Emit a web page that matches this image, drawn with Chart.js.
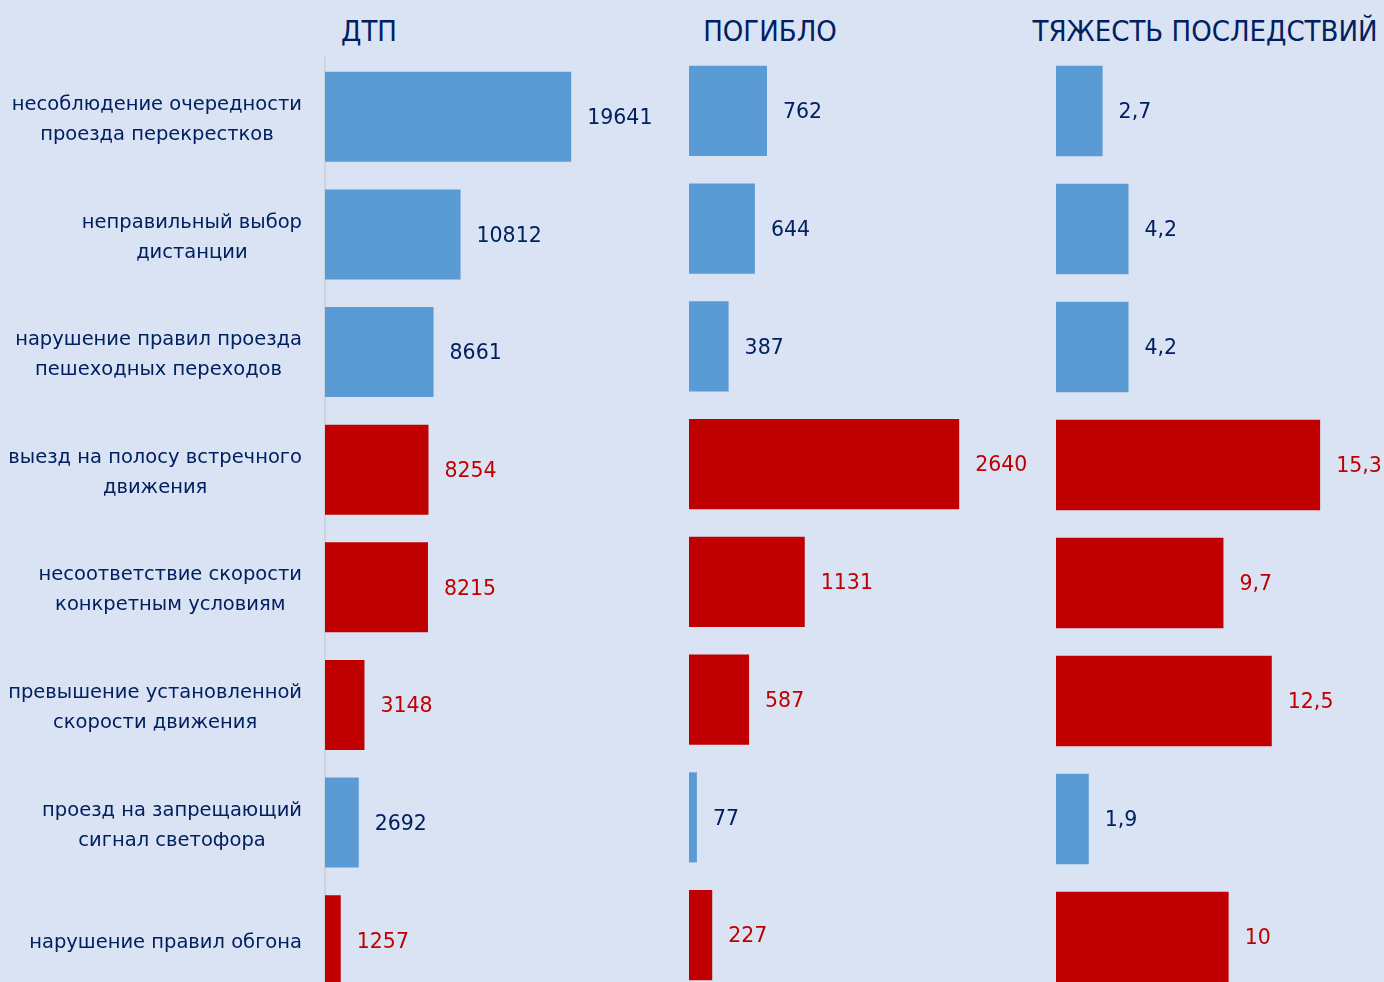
<!DOCTYPE html>
<html>
<head>
<meta charset="utf-8">
<script src="https://cdn.jsdelivr.net/npm/chart.js@4/dist/chart.umd.min.js"></script>
<style>
  html, body { margin: 0; padding: 0; background: #dae3f3; overflow: hidden; }
  body { width: 1384px; height: 982px; position: relative; }
  .box { position: absolute; top: 0; height: 1010px; }
  .ttl { position: absolute; top: 14px; font-family: "DejaVu Sans Condensed", "DejaVu Sans", sans-serif;
         font-stretch: condensed; font-size: 29px; color: #002060; white-space: nowrap; transform: translateX(-50%); }
</style>
</head>
<body>
<div class="ttl" style="left:369px">ДТП</div>
<div class="ttl" style="left:770px">ПОГИБЛО</div>
<div class="ttl" style="left:1205px">ТЯЖЕСТЬ ПОСЛЕДСТВИЙ</div>

<div class="box" style="left:0;width:676px"><canvas id="c1"></canvas></div>
<div class="box" style="left:680px;width:360px"><canvas id="c2"></canvas></div>
<div class="box" style="left:1040px;width:344px"><canvas id="c3"></canvas></div>

<script>
// ----- DATA -----
var categories = [
  ['несоблюдение очередности', 'проезда перекрестков'],
  ['неправильный выбор', 'дистанции'],
  ['нарушение правил проезда', 'пешеходных переходов'],
  ['выезд на полосу встречного', 'движения'],
  ['несоответствие скорости', 'конкретным условиям'],
  ['превышение установленной', 'скорости движения'],
  ['проезд на запрещающий', 'сигнал светофора'],
  ['нарушение правил обгона']
];
var dtp      = [19641, 10812, 8661, 8254, 8215, 3148, 2692, 1257];
var died     = [762, 644, 387, 2640, 1131, 587, 77, 227];
var severity = [2.7, 4.2, 4.2, 15.3, 9.7, 12.5, 1.9, 10];
// true = highlighted (red) cause
var highlight = [false, false, false, true, true, true, false, true];

// ----- STYLE -----
var BLUE = '#5b9bd5', RED = '#c00000', NAVY = '#002060';
var barColors = highlight.map(function (h) { return h ? RED : BLUE; });
var textColors = highlight.map(function (h) { return h ? RED : NAVY; });
var FONT = '"DejaVu Sans", sans-serif';

// value labels at bar ends
var valueLabels = {
  id: 'valueLabels',
  afterDatasetsDraw: function (chart) {
    var ctx = chart.ctx;
    var meta = chart.getDatasetMeta(0);
    ctx.save();
    ctx.font = '20.5px ' + FONT;
    ctx.textAlign = 'left';
    ctx.textBaseline = 'middle';
    meta.data.forEach(function (bar, i) {
      var v = chart.data.datasets[0].data[i];
      ctx.fillStyle = textColors[i];
      ctx.fillText(String(v).replace('.', ','), bar.x + 16, bar.y + 2);
    });
    ctx.restore();
  }
};

// category labels: each label centred on itself, block right edge fixed
var catLabels = {
  id: 'catLabels',
  afterDraw: function (chart) {
    var ctx = chart.ctx;
    var y = chart.scales.y;
    ctx.save();
    ctx.font = '19.5px ' + FONT;
    ctx.fillStyle = NAVY;
    ctx.textAlign = 'center';
    ctx.textBaseline = 'middle';
    categories.forEach(function (lines, i) {
      var w = 0;
      lines.forEach(function (l) { w = Math.max(w, ctx.measureText(l).width); });
      var cx = y.right - 23 - w / 2;
      var cy = y.getPixelForTick(i);
      var lh = 30;
      lines.forEach(function (l, k) {
        ctx.fillText(l, cx, cy + (k - (lines.length - 1) / 2) * lh + 3);
      });
    });
    ctx.restore();
  }
};

function makeChart(id, values, max, pad, showAxis) {
  var ctx = document.getElementById(id).getContext('2d');
  return new Chart(ctx, {
    type: 'bar',
    data: {
      labels: categories.map(function (c) { return c.join(' '); }),
      datasets: [{
        data: values,
        backgroundColor: barColors,
        borderWidth: 0,
        barPercentage: 1,
        categoryPercentage: 0.765
      }]
    },
    options: {
      indexAxis: 'y',
      responsive: true,
      maintainAspectRatio: false,
      animation: false,
      layout: { padding: pad },
      plugins: { legend: { display: false }, tooltip: { enabled: false } },
      scales: {
        x: { display: false, min: 0, max: max },
        y: showAxis ? {
          grid: { display: false },
          border: { display: true, color: '#cfd4dc', width: 2 },
          ticks: { display: false },
          afterFit: function (s) { s.width = 325; }
        } : { display: false }
      }
    },
    plugins: showAxis ? [valueLabels, catLabels] : [valueLabels]
  });
}

makeChart('c1', dtp, 28000, { left: 0, right: 0, top: 58, bottom: 11 }, true);
makeChart('c2', died, 3400, { left: 9, right: 3, top: 52, bottom: 16 }, false);
makeChart('c3', severity, 19, { left: 16, right: 0, top: 52, bottom: 14 }, false);
</script>
</body>
</html>
